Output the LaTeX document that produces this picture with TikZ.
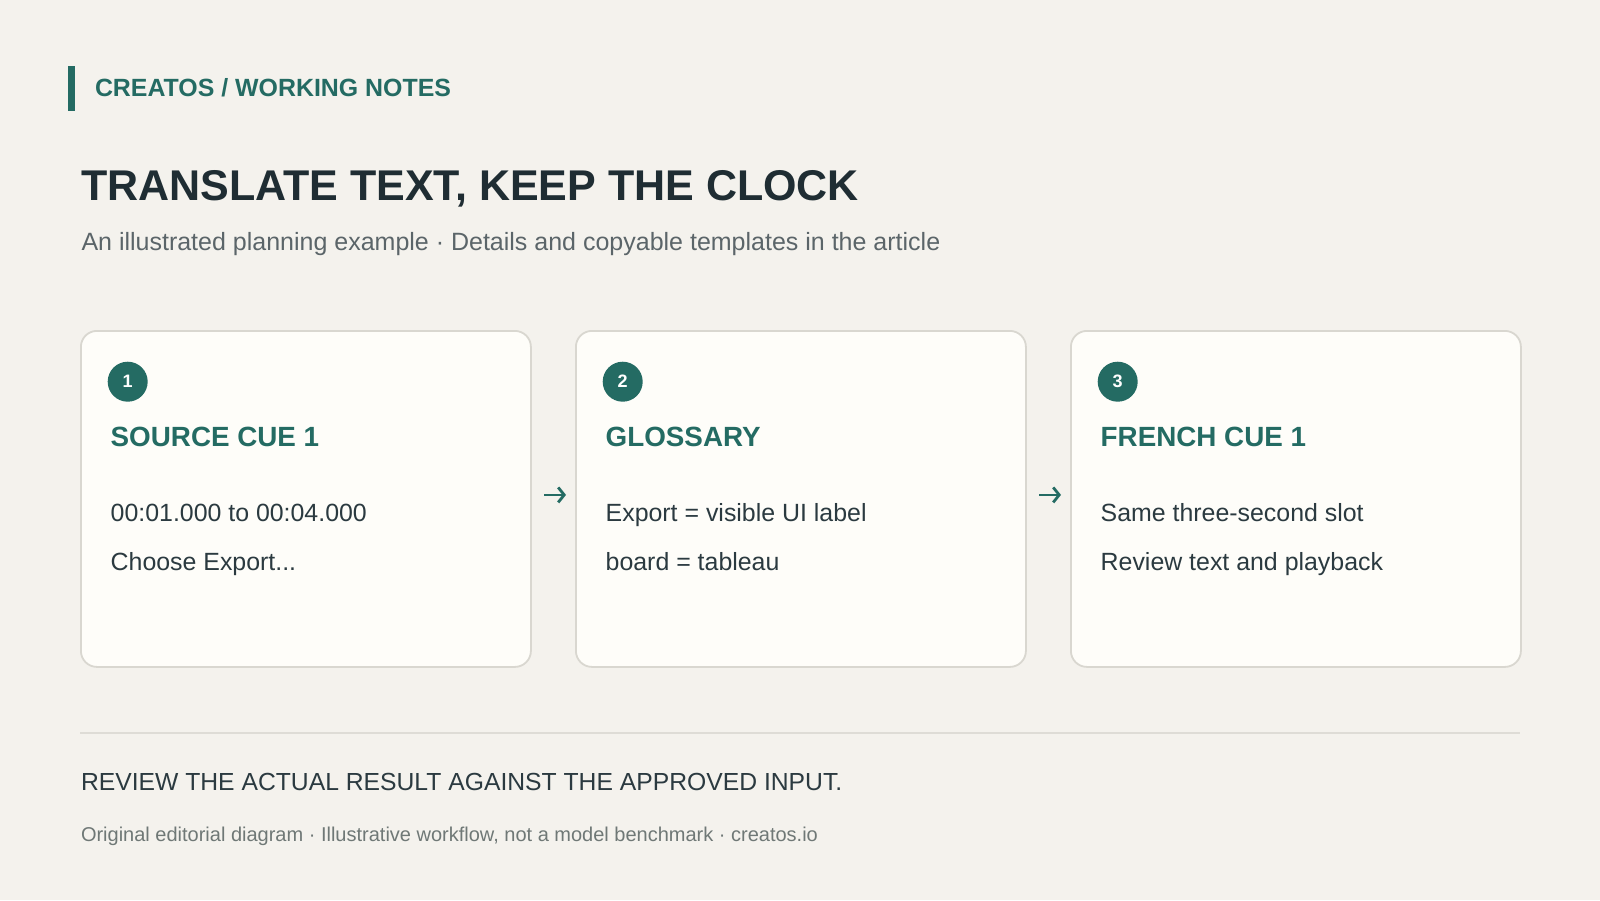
\documentclass[tikz,border=0pt]{standalone}
\usepackage{fontspec}
\setmainfont{Liberation Sans}
\usetikzlibrary{arrows.meta,positioning}
\definecolor{bgc}{HTML}{F4F2ED}
\definecolor{cardfill}{HTML}{FEFDF9}
\definecolor{cardline}{HTML}{D9D7D0}
\definecolor{teal}{HTML}{246B63}
\definecolor{titlec}{HTML}{1F2D33}
\definecolor{bodyc}{HTML}{2B3A40}
\definecolor{subc}{HTML}{5B6569}
\definecolor{footc}{HTML}{6F7876}
\definecolor{rulec}{HTML}{DEDCD6}
\newcommand{\fsz}[1]{\fontsize{#1}{#1}\selectfont}
\tikzset{
  txt/.style={anchor=base west, inner sep=0pt, outer sep=0pt},
  cardbox/.style={draw=cardline, line width=1.8pt, fill=cardfill, rounded corners=16pt, minimum width=450pt, minimum height=336pt, anchor=north west, inner sep=0pt},
  numdot/.style={circle, fill=teal, minimum size=40pt, inner sep=0pt, text=white, font=\fsz{18}\bfseries},
  cardhead/.style={txt, text=teal, font=\fsz{27.8}\bfseries},
  cardbody/.style={txt, text=bodyc, font=\fsz{24.9}},
  flow/.style={draw=teal, line width=2.8pt, -{Straight Barb[length=6pt,width=15pt]}}
}
\begin{document}
\begin{tikzpicture}[x=1pt,y=-1pt]
\fill[bgc] (0,0) rectangle (1600,900);
\useasboundingbox (0,0) rectangle (1600,900);
% header
\fill[teal] (68,66) rectangle (75,111);
\node[txt, text=teal, font=\fsz{24.9}\bfseries] (brand) at (95,96) {CREATOS / WORKING NOTES};
\node[txt, text=titlec, font=\fsz{43}\bfseries] (title) at (81,200) {TRANSLATE TEXT, KEEP THE CLOCK};
\node[txt, text=subc, font=\fsz{25}] (sub) at (81.5,250) {An illustrated planning example · Details and copyable templates in the article};
% cards
\node[cardbox] (c1) at (80,330) {};
\node[cardbox] (c2) at (575,330) {};
\node[cardbox] (c3) at (1070,330) {};
% card 1
\node[numdot] (n1) at (127.7,381.7) {1};
\node[cardhead] (h1) at (110.7,446.5) {SOURCE CUE 1};
\node[cardbody] (b1a) at (110.7,521) {00:01.000 to 00:04.000};
\node[cardbody] (b1b) at (110.7,570) {Choose Export...};
% card 2
\node[numdot] (n2) at (622.7,381.7) {2};
\node[cardhead] (h2) at (605.7,446.5) {GLOSSARY};
\node[cardbody] (b2a) at (605.7,521) {Export = visible UI label};
\node[cardbody] (b2b) at (605.7,570) {board = tableau};
% card 3
\node[numdot] (n3) at (1117.7,381.7) {3};
\node[cardhead] (h3) at (1100.7,446.5) {FRENCH CUE 1};
\node[cardbody] (b3a) at (1100.7,521) {Same three-second slot};
\node[cardbody] (b3b) at (1100.7,570) {Review text and playback};
% arrows
\draw[flow] ([xshift=12.5pt,yshift=4pt]c1.east) -- ([xshift=-9pt,yshift=4pt]c2.west);
\draw[flow] ([xshift=12.5pt,yshift=4pt]c2.east) -- ([xshift=-9pt,yshift=4pt]c3.west);
% bottom
\draw[rulec, line width=2pt] (80,732.7) -- (1520,732.7);
\node[txt, text=bodyc, font=\fsz{24.7}] (note) at (81,790) {REVIEW THE ACTUAL RESULT AGAINST THE APPROVED INPUT.};
\node[txt, text=footc, font=\fsz{20}] (foot) at (81,841.5) {Original editorial diagram · Illustrative workflow, not a model benchmark · creatos.io};
\end{tikzpicture}
\end{document}
